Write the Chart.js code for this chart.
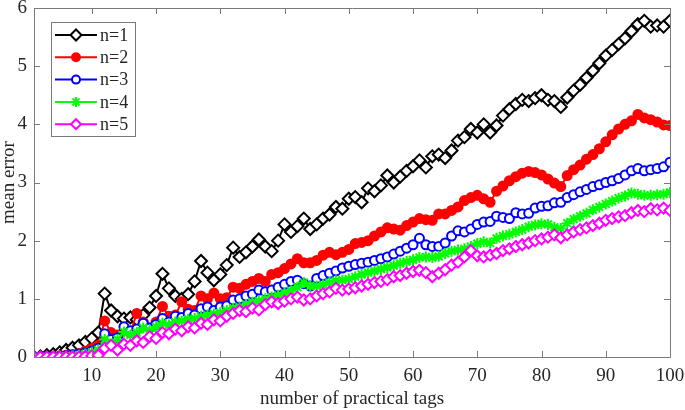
<!DOCTYPE html>
<html><head><meta charset="utf-8">
<script src="https://cdn.jsdelivr.net/npm/chart.js@4/dist/chart.umd.min.js"></script>
<style>html,body{margin:0;padding:0;background:#fff}#wrap{width:685px;height:410px}</style>
</head><body><div id="wrap"><canvas id="c" width="685" height="410"></canvas></div>
<script>
const tags = [1,2,3,4,5,6,7,8,9,10,11,12,13,14,15,16,17,18,19,20,21,22,23,24,25,26,27,28,29,30,31,32,33,34,35,36,37,38,39,40,41,42,43,44,45,46,47,48,49,50,51,52,53,54,55,56,57,58,59,60,61,62,63,64,65,66,67,68,69,70,71,72,73,74,75,76,77,78,79,80,81,82,83,84,85,86,87,88,89,90,91,92,93,94,95,96,97,98,99,100];
const n1 = [0.0,0.01,0.03,0.05,0.08,0.12,0.16,0.2,0.26,0.32,0.42,1.09,0.8,0.7,0.66,0.68,0.64,0.72,0.85,1.05,1.43,1.18,1.05,1.0,1.08,1.3,1.65,1.45,1.32,1.42,1.58,1.88,1.72,1.8,1.9,2.02,1.9,1.82,2.0,2.28,2.15,2.25,2.38,2.2,2.28,2.38,2.45,2.58,2.55,2.72,2.75,2.66,2.9,2.85,2.95,3.12,3.0,3.1,3.2,3.28,3.38,3.26,3.45,3.48,3.42,3.55,3.72,3.78,3.92,3.86,4.0,3.86,3.98,4.15,4.26,4.35,4.42,4.4,4.45,4.5,4.42,4.4,4.3,4.46,4.58,4.68,4.8,4.92,5.05,5.18,5.28,5.38,5.48,5.6,5.72,5.78,5.68,5.7,5.68,5.78];
const n2 = [0,0,0,0.01,0.02,0.03,0.04,0.06,0.1,0.15,0.2,0.62,0.42,0.38,0.45,0.42,0.75,0.6,0.5,0.6,0.87,0.7,0.72,0.95,0.82,0.8,1.05,1.0,1.1,1.0,1.02,1.2,1.18,1.25,1.3,1.35,1.3,1.42,1.45,1.52,1.6,1.69,1.62,1.62,1.66,1.75,1.8,1.76,1.8,1.85,1.95,1.97,2.0,2.08,2.15,2.22,2.2,2.18,2.26,2.32,2.38,2.36,2.35,2.46,2.46,2.52,2.58,2.69,2.74,2.78,2.72,2.66,2.85,2.94,3.03,3.1,3.16,3.19,3.17,3.13,3.06,2.99,2.93,3.12,3.22,3.3,3.4,3.48,3.58,3.7,3.82,3.92,4.0,4.06,4.17,4.11,4.08,4.04,3.99,3.98];
const n3 = [0,0,0,0,0.01,0.02,0.04,0.05,0.07,0.1,0.15,0.4,0.3,0.33,0.52,0.45,0.48,0.58,0.5,0.56,0.66,0.6,0.7,0.68,0.75,0.72,0.83,0.86,0.8,0.86,0.88,0.98,1.0,1.05,1.08,1.15,1.12,1.15,1.2,1.25,1.3,1.32,1.26,1.22,1.35,1.4,1.44,1.48,1.53,1.56,1.59,1.61,1.63,1.66,1.69,1.72,1.77,1.82,1.87,1.93,2.04,1.93,1.9,1.9,1.96,2.08,2.17,2.15,2.2,2.28,2.32,2.33,2.42,2.4,2.38,2.48,2.46,2.47,2.56,2.59,2.6,2.65,2.66,2.74,2.79,2.84,2.88,2.93,2.96,3.0,3.03,3.07,3.13,3.2,3.24,3.2,3.22,3.24,3.27,3.35];
const n4 = [0,0,0,0,0,0.01,0.02,0.03,0.05,0.08,0.12,0.3,0.22,0.3,0.43,0.38,0.42,0.5,0.45,0.52,0.58,0.55,0.6,0.62,0.65,0.66,0.7,0.72,0.74,0.76,0.8,0.84,0.86,0.9,0.94,0.96,1.0,1.03,1.06,1.1,1.14,1.2,1.28,1.22,1.22,1.24,1.28,1.31,1.32,1.34,1.38,1.42,1.45,1.48,1.51,1.54,1.57,1.61,1.64,1.67,1.71,1.72,1.71,1.73,1.78,1.82,1.84,1.86,1.9,1.95,1.98,1.96,2.04,2.08,2.11,2.15,2.19,2.24,2.27,2.29,2.28,2.23,2.21,2.3,2.37,2.42,2.47,2.53,2.58,2.63,2.68,2.73,2.77,2.82,2.8,2.78,2.78,2.79,2.8,2.83];
const n5 = [0,0,0,0,0,0,0,0,0.01,0.02,0.03,0.15,0.2,0.12,0.22,0.2,0.28,0.25,0.35,0.32,0.42,0.4,0.48,0.45,0.52,0.5,0.58,0.56,0.64,0.62,0.7,0.75,0.8,0.78,0.84,0.81,0.9,0.95,0.92,0.96,1.0,1.03,0.98,1.0,1.05,1.09,1.12,1.18,1.15,1.17,1.19,1.22,1.25,1.28,1.3,1.33,1.38,1.4,1.44,1.47,1.49,1.45,1.38,1.44,1.5,1.58,1.63,1.72,1.83,1.74,1.72,1.75,1.78,1.83,1.86,1.9,1.93,1.96,2.0,2.03,2.06,2.1,2.05,2.1,2.15,2.19,2.22,2.26,2.3,2.35,2.38,2.41,2.43,2.48,2.52,2.5,2.55,2.53,2.56,2.52];
const seriesLabels = ['n=1','n=2','n=3','n=4','n=5'];
const xTicks = [10,20,30,40,50,60,70,80,90,100];
const yTicks = [0,1,2,3,4,5,6];

const FONT = 'Liberation Serif, Times New Roman, serif';
const TEXT = '#262626';
const FRAME = '#7a7a7a';

const styles = [
  {color:'#000000', fill:'#ffffff', pointStyle:'rectRot', radius:6, order:4},
  {color:'#ff0000', fill:'#ff0000', pointStyle:'circle', radius:4.5, order:3},
  {color:'#0000ff', fill:'#ffffff', pointStyle:'circle', radius:4.5, order:2},
  {color:'#00ff00', fill:'#00ff00', pointStyle:'star', radius:5.5, order:1},
  {color:'#ff00ff', fill:'#ffffff', pointStyle:'rectRot', radius:5.5, order:0}
];
const allSeries = [n1,n2,n3,n4,n5];

const datasets = allSeries.map((arr, i) => ({
  label: seriesLabels[i],
  data: arr.map((v, j) => ({x: tags[j], y: v})),
  borderColor: styles[i].color,
  backgroundColor: styles[i].fill,
  borderWidth: 2,
  pointStyle: styles[i].pointStyle,
  pointRadius: styles[i].radius,
  pointBorderWidth: 2,
  pointBorderColor: styles[i].color,
  pointBackgroundColor: styles[i].fill,
  tension: 0,
  order: styles[i].order
}));

const framePlugin = {
  id: 'frame',
  afterDraw(chart) {
    const ctx = chart.ctx, a = chart.chartArea;
    const xs = chart.scales.x, ys = chart.scales.y;
    ctx.save();
    ctx.strokeStyle = FRAME;
    ctx.lineWidth = 1;
    ctx.beginPath();
    ctx.rect(Math.round(a.left)+0.5, Math.round(a.top)+0.5, Math.round(a.right-a.left), Math.round(a.bottom-a.top));
    ctx.stroke();
    const tl = 6;
    ctx.beginPath();
    xTicks.forEach(v => {
      const px = Math.round(xs.getPixelForValue(v)) + 0.5;
      ctx.moveTo(px, a.bottom); ctx.lineTo(px, a.bottom - tl);
      ctx.moveTo(px, a.top); ctx.lineTo(px, a.top + tl);
    });
    yTicks.forEach(v => {
      const py = Math.round(ys.getPixelForValue(v)) + 0.5;
      ctx.moveTo(a.left, py); ctx.lineTo(a.left + tl, py);
      ctx.moveTo(a.right, py); ctx.lineTo(a.right - tl, py);
    });
    ctx.stroke();

    // legend
    const lx = 51, ly = 22, lw = 84, lh = 114;
    ctx.fillStyle = '#ffffff';
    ctx.fillRect(lx, ly, lw, lh);
    ctx.strokeStyle = FRAME;
    ctx.lineWidth = 1;
    ctx.strokeRect(lx + 0.5, ly + 0.5, lw, lh);
    chart.data.datasets.forEach((ds, i) => {
      const y = 35 + i * 22.3;
      ctx.strokeStyle = ds.borderColor;
      ctx.lineWidth = 2;
      ctx.beginPath();
      ctx.moveTo(55, y); ctx.lineTo(97, y);
      ctx.stroke();
      ctx.fillStyle = ds.pointBackgroundColor;
      ctx.strokeStyle = ds.pointBorderColor;
      ctx.lineWidth = ds.pointBorderWidth;
      Chart.helpers.drawPoint(ctx, {pointStyle: ds.pointStyle, radius: ds.pointRadius - 0.5, rotation: 0, borderWidth: ds.pointBorderWidth}, 76, y);
      ctx.fillStyle = TEXT;
      ctx.font = '18px ' + FONT;
      ctx.textBaseline = 'middle';
      ctx.textAlign = 'left';
      ctx.fillText(ds.label, 100, y + 1);
    });
    ctx.restore();
  }
};

new Chart(document.getElementById('c'), {
  type: 'line',
  data: {datasets},
  options: {
    responsive: false,
    animation: false,
    devicePixelRatio: 1,
    layout: {padding: {top: 7, right: 15, left: 0, bottom: 0}},
    plugins: {legend: {display: false}, tooltip: {enabled: false}},
    scales: {
      x: {
        type: 'linear', min: 1, max: 100,
        grid: {display: false, drawTicks: false},
        border: {display: false},
        afterBuildTicks: s => { s.ticks = xTicks.map(v => ({value: v})); },
        afterFit: s => { s.height = 53; s.paddingLeft = 0; s.paddingRight = 0; },
        ticks: {color: TEXT, font: {family: FONT, size: 19}, padding: 8, maxRotation: 0, autoSkip: false},
        title: {display: true, text: 'number of practical tags', color: TEXT, font: {family: FONT, size: 19, lineHeight: 1}, padding: {top: 0, bottom: 1}}
      },
      y: {
        type: 'linear', min: 0, max: 6,
        grid: {display: false, drawTicks: false},
        border: {display: false},
        afterBuildTicks: s => { s.ticks = yTicks.map(v => ({value: v})); },
        afterFit: s => { s.width = 34; s.paddingTop = 0; s.paddingBottom = 0; },
        ticks: {color: TEXT, font: {family: FONT, size: 19}, padding: 7, autoSkip: false},
        title: {display: true, text: 'mean error', color: TEXT, font: {family: FONT, size: 19, lineHeight: 1}, padding: {top: 0, bottom: 0}}
      }
    }
  },
  plugins: [framePlugin]
});
</script>
</body></html>
